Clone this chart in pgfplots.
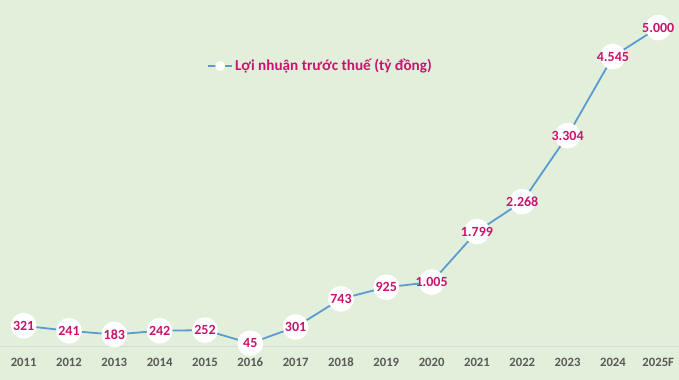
\documentclass[border=0pt]{standalone}
\usepackage{pgfplots}
\pgfplotsset{compat=1.18}
\usepackage{fontspec}
\setmainfont{Carlito}
\definecolor{bg}{RGB}{226,239,218}
\definecolor{lbl}{RGB}{200,20,110}
\definecolor{ln}{RGB}{91,155,210}
\definecolor{tk}{RGB}{89,89,89}
\begin{document}
\begin{tikzpicture}[x=1pt,y=1pt]
\fill[bg] (0,0) rectangle (679,380);
\begin{axis}[
  at={(0pt,33.5pt)}, anchor=south west,
  scale only axis, width=679pt, height=346.5pt,
  xmin=-0.513, xmax=14.449, ymin=0, ymax=5431,
  axis line style={draw=none},
  ytick=\empty,
  xtick={0,...,14},
  xticklabels={2011,2012,2013,2014,2015,2016,2017,2018,2019,2020,2021,2022,2023,2024,2025F},
  major tick length=0pt,
  xticklabel style={font=\fontsize{12.7}{14}\selectfont\bfseries, text=tk, anchor=center, yshift=-16pt},
  clip=false,
  nodes near coords,
  point meta=explicit symbolic,
  every node near coord/.append style={anchor=center, font=\fontsize{14}{16}\selectfont\bfseries, text=lbl},
  legend style={at={(0.305,0.8095)}, anchor=west, draw=none, fill=none, inner sep=0pt,
    font=\fontsize{15.2}{18}\selectfont\bfseries, text=lbl},
  legend image code/.code={
    \draw[ln, line width=1.6pt] (0pt,0pt) -- (24pt,0pt);
    \fill[white] (12pt,0pt) circle (4pt);
  },
]
\draw[black!15, line width=0.8pt] (axis cs:-0.513,0) -- (axis cs:14.449,0);
\addplot[ln, line width=1.8pt, mark=*, mark size=12pt, mark options={fill=white, draw=white}]
  table[meta=lab] {
x y lab
0 321 321
1 241 241
2 183 183
3 242 242
4 252 252
5 45 45
6 301 301
7 743 743
8 925 925
9 1005 1.005
10 1799 1.799
11 2268 2.268
12 3304 3.304
13 4545 4.545
14 5000 5.000
};
\addlegendentry{Lợi nhuận trước thuế (tỷ đồng)}
\end{axis}
\end{tikzpicture}
\end{document}
